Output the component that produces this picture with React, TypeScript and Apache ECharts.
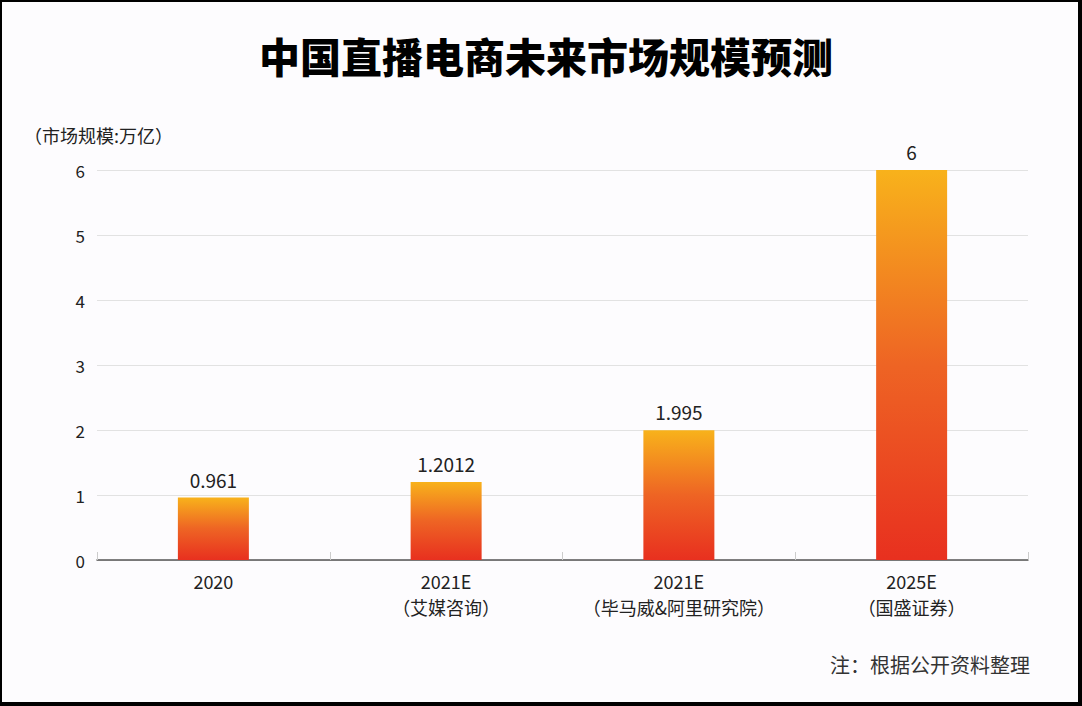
import React, { useEffect, useRef } from "react";
import * as echarts from "echarts";

const categories = ["2020", "2021E\n（艾媒咨询）", "2021E\n（毕马威&阿里研究院）", "2025E\n（国盛证券）"];
const values = [0.961, 1.2012, 1.995, 6];
const yTicks = { min: 0, max: 6, interval: 1 };
const titleText = "中国直播电商未来市场规模预测";
const unitText = "（市场规模:万亿）";
const noteText = "注：根据公开资料整理";

const FONT = "'Noto Sans CJK SC', 'Noto Sans', sans-serif";

export default function App() {
  const ref = useRef<HTMLDivElement>(null);
  useEffect(() => {
    if (!ref.current) return;
    const chart = echarts.init(ref.current, null, { renderer: "svg" });
    chart.setOption({
      animation: false,
      backgroundColor: "#fdfcfe",
      textStyle: { fontFamily: FONT },
      grid: { left: 95, right: 50, top: 168, bottom: 142 },
      graphic: [
        {
          type: "text",
          left: 257,
          top: 32,
          style: { text: titleText, font: `900 41px ${FONT}`, fill: "#000" },
        },
        {
          type: "text",
          left: 22,
          top: 124,
          style: { text: unitText, font: `18px ${FONT}`, fill: "#222" },
        },
        {
          type: "text",
          right: 48,
          top: 652,
          style: { text: noteText, font: `20px ${FONT}`, fill: "#333" },
        },
      ],
      xAxis: {
        type: "category",
        data: categories,
        axisLine: { lineStyle: { color: "#555", width: 1.5 } },
        axisTick: { show: true, inside: true, interval: 0, length: 8, lineStyle: { color: "#ccc" } },
        axisLabel: { interval: 0, color: "#222", fontSize: 18, lineHeight: 26, margin: 8, fontFamily: FONT },
      },
      yAxis: {
        type: "value",
        min: yTicks.min,
        max: yTicks.max,
        interval: yTicks.interval,
        axisLine: { show: false },
        axisTick: { show: false },
        axisLabel: { color: "#222", fontSize: 17, margin: 12, fontFamily: FONT },
        splitLine: { lineStyle: { color: "#e2e2e2", width: 1 } },
      },
      series: [
        {
          type: "bar",
          data: values,
          barWidth: 71,
          itemStyle: {
            color: new echarts.graphic.LinearGradient(0, 0, 0, 1, [
              { offset: 0, color: "#f8b21b" },
              { offset: 0.5, color: "#ee6424" },
              { offset: 1, color: "#e8301f" },
            ]),
          },
          label: {
            show: true,
            position: "top",
            distance: 9,
            color: "#222",
            fontSize: 19,
            fontFamily: FONT,
            formatter: (p: any) => String(p.value),
          },
        },
      ],
    });
    return () => chart.dispose();
  }, []);
  return (
    <div
      style={{
        position: "fixed",
        left: 0,
        top: 0,
        width: 1082,
        height: 706,
        boxSizing: "border-box",
        borderTop: "2px solid #000",
        borderLeft: "2px solid #000",
        borderRight: "4px solid #000",
        borderBottom: "4px solid #000",
        background: "#000",
      }}
    >
      <div ref={ref} style={{ width: 1076, height: 700 }} />
    </div>
  );
}
